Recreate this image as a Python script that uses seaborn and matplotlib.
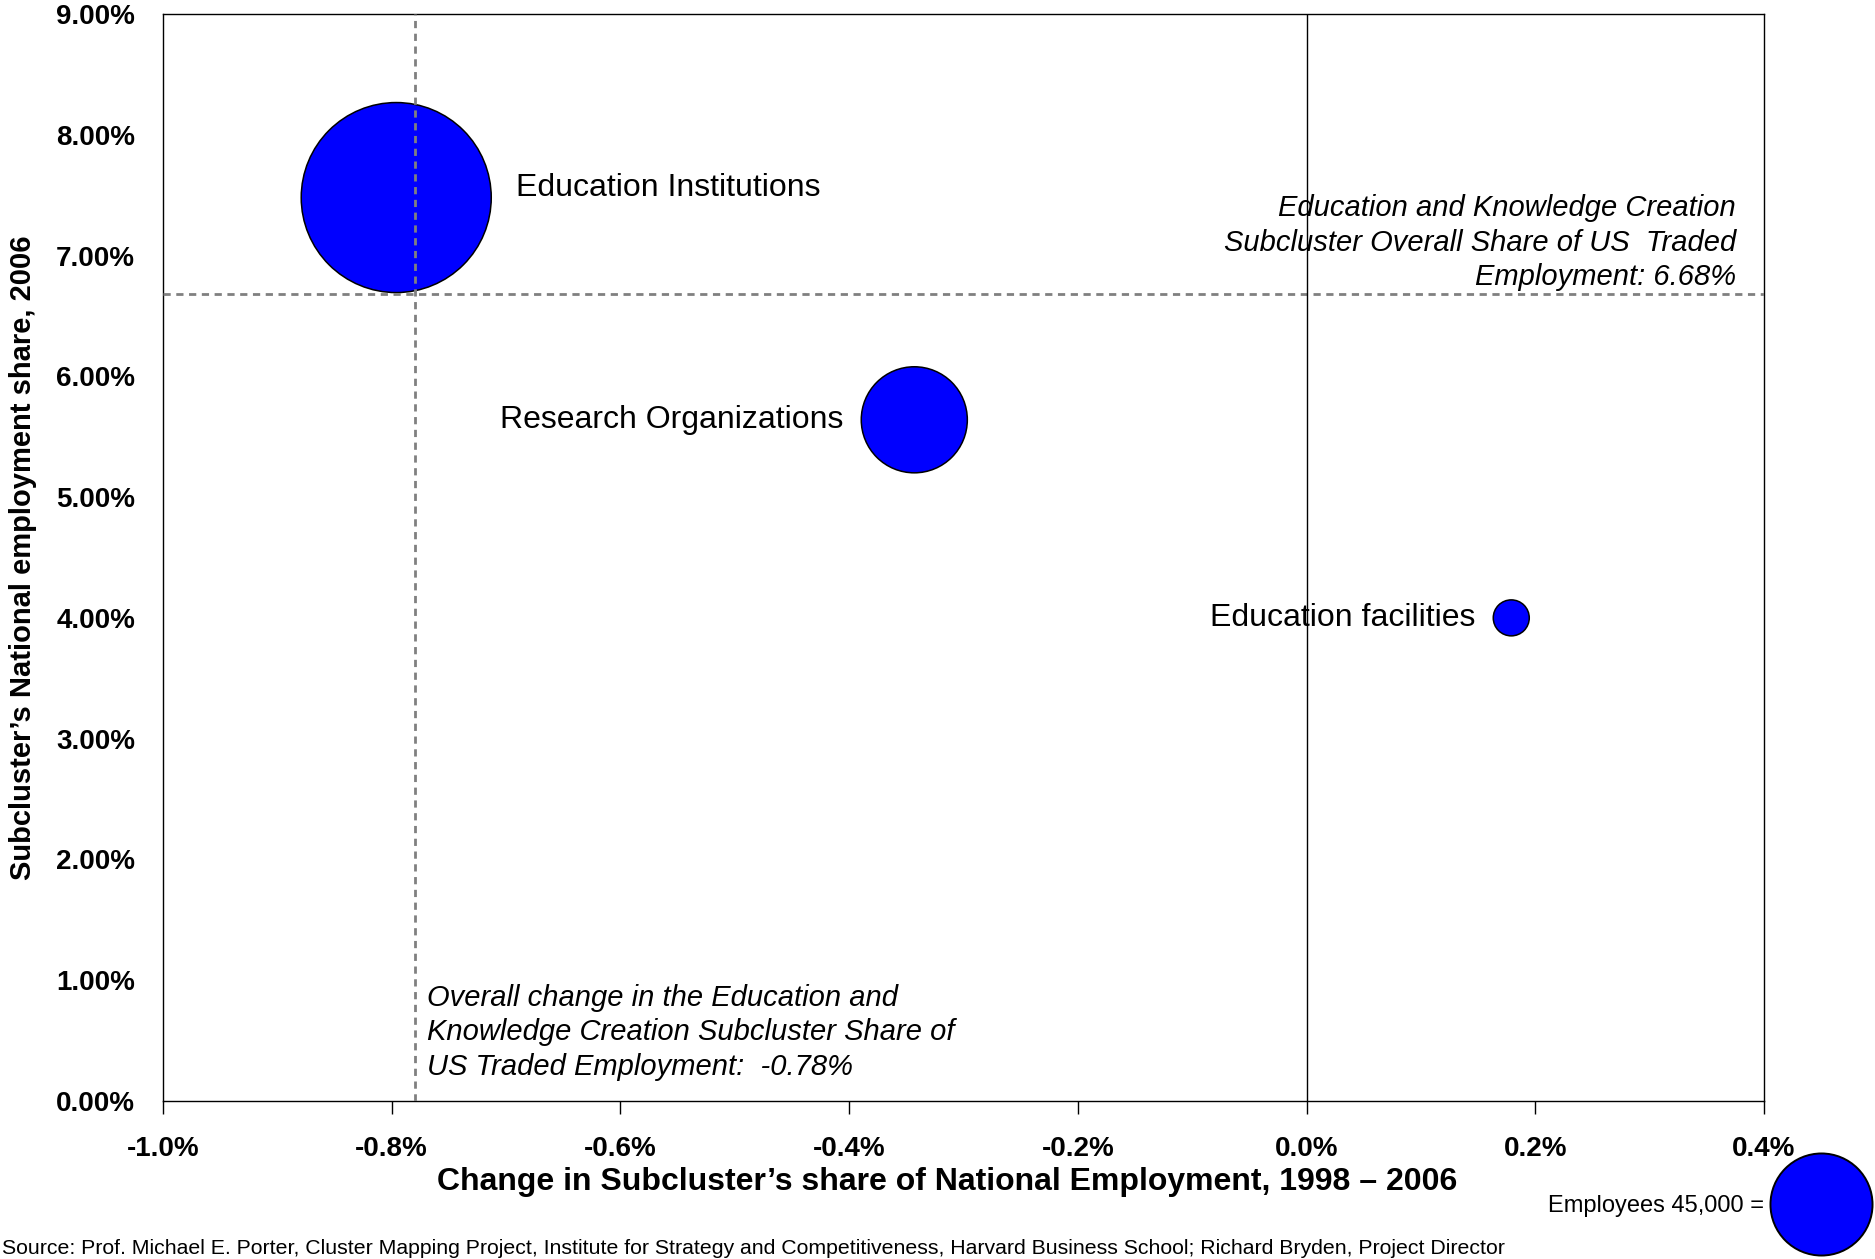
import numpy as np
import pandas as pd
import matplotlib
matplotlib.use("Agg")
import matplotlib.pyplot as plt
import seaborn as sns
from matplotlib.lines import Line2D
from matplotlib.ticker import FuncFormatter

# --- data --------------------------------------------------------------
subclusters = ["Education Institutions", "Research Organizations", "Education facilities"]
share_change = [-0.796, -0.343, 0.179]  # change in share, % points 1998-2006
share_2006 = [7.48, 5.64, 4.00]         # national employment share 2006, %
employees = [156000, 48600, 5600]       # bubble size

overall_change = -0.78
overall_share = 6.68
legend_employees = 45000

x_ticks = [-1.0, -0.8, -0.6, -0.4, -0.2, 0.0, 0.2, 0.4]
y_ticks = [0, 1, 2, 3, 4, 5, 6, 7, 8, 9]

AREA_PER_EMP = 0.12   # marker area (pt^2) per employee
BLUE = "#0000FF"

sns.set_style("white")
plt.rcParams["font.family"] = ["Liberation Sans", "DejaVu Sans"]
plt.rcParams.update({"text.color": "black", "axes.labelcolor": "black",
                     "xtick.color": "black", "ytick.color": "black"})

df = pd.DataFrame({"subcluster": subclusters, "change": share_change,
                   "share": share_2006, "employees": employees})

fig = plt.figure(figsize=(18.75, 12.59), dpi=100)
ax = fig.add_axes([0.0869, 0.1255, 0.8539, 0.8634])

smax = 200000
sns.scatterplot(data=df, x="change", y="share", size="employees",
                sizes=(0, smax * AREA_PER_EMP), size_norm=(0, smax),
                color=BLUE, edgecolor="black", linewidth=1.1,
                alpha=1, legend=False, ax=ax, zorder=2)

# reference lines
ls = (0, (2.6, 2.0))
ax.axvline(overall_change, color="#808080", lw=2.0, ls=ls, zorder=4)
ax.axhline(overall_share, color="#808080", lw=2.0, ls=ls, zorder=4)
ax.axvline(0, color="black", lw=1.0, zorder=4)

ax.set_xlim(x_ticks[0], x_ticks[-1])
ax.set_ylim(y_ticks[0], y_ticks[-1])
ax.set_xticks(x_ticks)
ax.set_yticks(y_ticks)
ax.xaxis.set_major_formatter(FuncFormatter(lambda v, p: f"{v:.1f}%"))
ax.yaxis.set_major_formatter(FuncFormatter(lambda v, p: f"{v:.2f}%"))
ax.tick_params(axis="x", direction="out", length=9, width=1.0, pad=16,
               labelsize=20, bottom=True)
ax.tick_params(axis="y", length=0, pad=20, labelsize=20)
for lab in ax.get_xticklabels() + ax.get_yticklabels():
    lab.set_fontweight("bold")
for sp in ax.spines.values():
    sp.set_color("black")
    sp.set_linewidth(1.0)

ax.set_xlabel("Change in Subcluster\u2019s share of National Employment, 1998 \u2013 2006",
              fontsize=23, fontweight="bold", labelpad=4)
ax.xaxis.label.set_x(0.4895)
ax.set_ylabel("Subcluster\u2019s National employment share, 2006",
              fontsize=21, fontweight="bold", labelpad=14)

# bubble labels
label_style = {
    "Education Institutions": dict(dx=1, dy=7, ha="left"),
    "Research Organizations": dict(dx=-1, dy=0, ha="right"),
    "Education facilities": dict(dx=-1, dy=0, ha="right"),
}
for _, r in df.iterrows():
    st = label_style[r["subcluster"]]
    rad = np.sqrt(r["employees"] * AREA_PER_EMP) / 2
    gap = 18 if st["ha"] == "left" else 13
    ax.annotate(r["subcluster"], (r["change"], r["share"]),
                xytext=(st["dx"] * (rad + gap), st["dy"]),
                textcoords="offset points", ha=st["ha"], va="center",
                fontsize=23, zorder=3)

ax.annotate("Education and Knowledge Creation\nSubcluster Overall Share of US  Traded\n"
            f"Employment: {overall_share:.2f}%",
            (x_ticks[-1], overall_share), xytext=(-20, 2), textcoords="offset points",
            ha="right", va="bottom", fontsize=21, style="italic",
            linespacing=1.3, zorder=3)
ax.annotate("Overall change in the Education and\nKnowledge Creation Subcluster Share of\n"
            f"US Traded Employment:  {overall_change:.2f}%",
            (overall_change, 0), xytext=(9, 14.5), textcoords="offset points",
            ha="left", va="bottom", fontsize=21, style="italic",
            linespacing=1.3, zorder=3)

# size key
msize = np.sqrt(legend_employees * AREA_PER_EMP)
key = Line2D([], [], ls="none", marker="o", markersize=msize,
             markerfacecolor=BLUE, markeredgecolor="black", markeredgewidth=1.4)
fig.legend([key], [f"Employees {legend_employees:,} ="], loc="center right",
           bbox_to_anchor=(0.999, 0.042), markerfirst=False, frameon=False,
           fontsize=17, handlelength=msize / 17 + 0.1, handletextpad=0.2,
           borderaxespad=0, borderpad=0)

fig.text(0.001, 0.0085,
         "Source: Prof. Michael E. Porter, Cluster Mapping Project, Institute for Strategy and "
         "Competitiveness, Harvard Business School; Richard Bryden, Project Director",
         fontsize=15.3, ha="left", va="center")

fig.savefig("out.png", dpi=100)
